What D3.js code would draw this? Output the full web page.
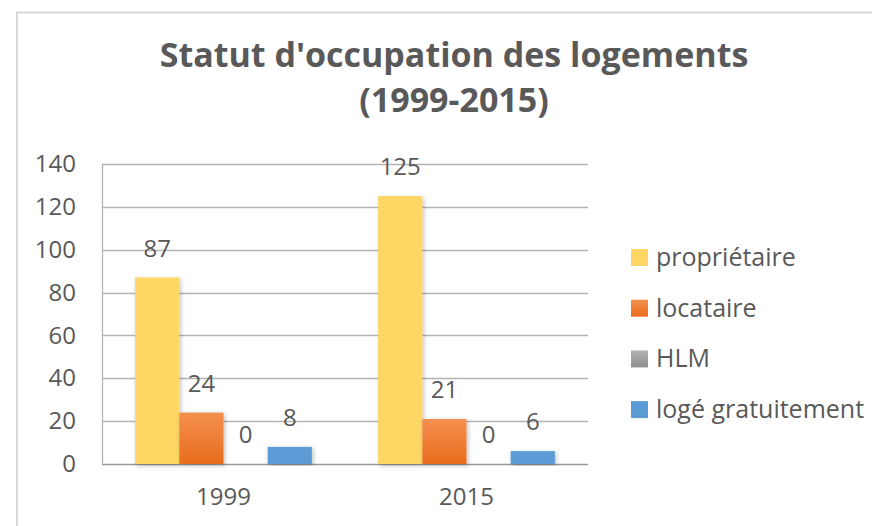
<!DOCTYPE html>
<html>
<head>
<meta charset="utf-8">
<script src="https://cdn.jsdelivr.net/npm/d3@7"></script>
<style>
  html, body { margin: 0; padding: 0; background: #fff; }
  svg { display: block; font-family: "Open Sans", "Noto Sans", sans-serif; }
</style>
</head>
<body>
<svg id="chart" width="872" height="526"></svg>
<script>
// Housing occupancy status, 1999 vs 2015
const years = ["1999", "2015"];
const statuses = ["propriétaire", "locataire", "HLM", "logé gratuitement"];
const proprietaire = [87, 125];
const locataire = [24, 21];
const hlm = [0, 0];
const logeGratuitement = [8, 6];
const yTicks = [0, 20, 40, 60, 80, 100, 120, 140];
const titleLines = ["Statut d'occupation des logements", "(1999-2015)"];

const seriesValues = [proprietaire, locataire, hlm, logeGratuitement];
const colors = ["#FDD663", "url(#gradOrange)", "url(#gradGray)", "#5B9BD5"];

const svg = d3.select("#chart");
const defs = svg.append("defs");

function vGrad(id, top, bottom) {
  const g = defs.append("linearGradient").attr("id", id)
    .attr("x1", 0).attr("y1", 0).attr("x2", 0).attr("y2", 1);
  g.append("stop").attr("offset", "0%").attr("stop-color", top);
  g.append("stop").attr("offset", "100%").attr("stop-color", bottom);
}
vGrad("gradOrange", "#F3904F", "#E96C1C");
vGrad("gradGray", "#B2B2B2", "#8F8F8F");

const shadow = defs.append("filter").attr("id", "shadow")
  .attr("x", "-20%").attr("y", "-10%").attr("width", "140%").attr("height", "120%");
shadow.append("feDropShadow").attr("dx", 1.5).attr("dy", 1.5)
  .attr("stdDeviation", 2).attr("flood-color", "#000").attr("flood-opacity", 0.25);

// chart area frame
svg.append("path")
  .attr("d", "M17,526 L17,12.5 L872,12.5")
  .attr("fill", "none").attr("stroke", "#d9d9d9").attr("stroke-width", 2);

// title
svg.append("g").selectAll("text").data(titleLines).join("text")
  .attr("x", 454).attr("y", (d, i) => 67 + i * 45)
  .attr("text-anchor", "middle")
  .attr("font-size", 34).attr("font-weight", 700)
  .attr("fill", "#595959")
  .text(d => d);

const plot = { left: 102, right: 588, top: 164, bottom: 464 };

// category bands; each group holds four bars with a 150% gap between groups
const x0 = d3.scaleBand().domain(years).range([plot.left, plot.right]);
const gapHalf = x0.bandwidth() * 0.5 * (1.5 / 5.5);
const x1 = d3.scaleBand().domain(statuses)
  .range([gapHalf, x0.bandwidth() - gapHalf]).padding(0);
const y = d3.scaleLinear().domain([0, 140]).range([plot.bottom, plot.top]);

// gridlines
svg.append("g").selectAll("line").data(yTicks).join("line")
  .attr("x1", plot.left).attr("x2", plot.right)
  .attr("y1", d => Math.round(y(d)) + 0.5).attr("y2", d => Math.round(y(d)) + 0.5)
  .attr("stroke", d => d === 0 ? "#9a9a9a" : "#b3b3b3").attr("stroke-width", 1.3);

// vertical axis line
svg.append("line")
  .attr("x1", plot.left + 0.5).attr("x2", plot.left + 0.5)
  .attr("y1", y(140)).attr("y2", y(0))
  .attr("stroke", "#b3b3b3").attr("stroke-width", 1.3);

// y axis labels
const yAxis = d3.axisLeft(y).tickValues(yTicks).tickSize(0).tickPadding(26);
const yg = svg.append("g").attr("transform", `translate(${plot.left},0)`).call(yAxis);
yg.select(".domain").remove();
yg.selectAll("text").attr("font-size", 24).attr("fill", "#595959")
  .attr("font-family", "'Open Sans', sans-serif");

// x axis labels
const xAxis = d3.axisBottom(x0).tickSize(0).tickPadding(24);
const xg = svg.append("g").attr("transform", `translate(0,${plot.bottom})`).call(xAxis);
xg.select(".domain").remove();
xg.selectAll("text").attr("font-size", 24).attr("fill", "#595959")
  .attr("font-family", "'Open Sans', sans-serif");

// bars
const rows = [];
years.forEach((yr, i) => {
  statuses.forEach((s, j) => {
    rows.push({ year: yr, status: s, value: seriesValues[j][i], color: colors[j] });
  });
});

svg.append("g").selectAll("rect").data(rows.filter(d => d.value > 0)).join("rect")
  .attr("x", d => x0(d.year) + x1(d.status))
  .attr("y", d => y(d.value))
  .attr("width", x1.bandwidth())
  .attr("height", d => y(0) - y(d.value))
  .attr("fill", d => d.color)
  .attr("filter", "url(#shadow)");

// value labels
svg.append("g").selectAll("text").data(rows).join("text")
  .attr("x", d => x0(d.year) + x1(d.status) + x1.bandwidth() / 2)
  .attr("y", d => y(d.value) - 21)
  .attr("text-anchor", "middle")
  .attr("font-size", 24).attr("fill", "#595959")
  .text(d => d.value);

// legend
const legend = svg.append("g").selectAll("g").data(statuses).join("g")
  .attr("transform", (d, i) => `translate(631,${257 + i * 50.7})`);
legend.append("rect")
  .attr("x", 0).attr("y", -8).attr("width", 17).attr("height", 17)
  .attr("fill", (d, i) => colors[i]);
legend.append("text")
  .attr("x", 25).attr("y", 9)
  .attr("font-size", 25).attr("fill", "#595959")
  .text(d => d);
</script>
</body>
</html>
